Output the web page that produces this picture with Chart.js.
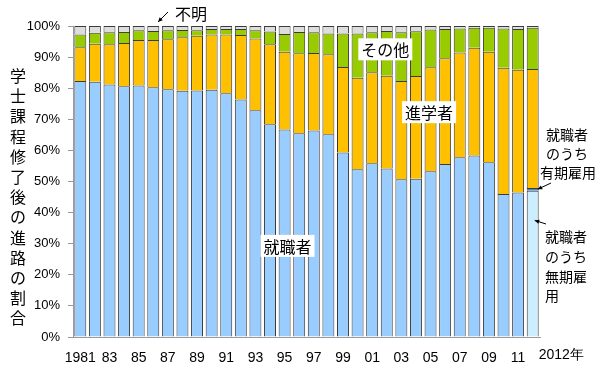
<!DOCTYPE html>
<html><head><meta charset="utf-8">
<script src="https://cdn.jsdelivr.net/npm/chart.js@4"></script>
<style>html,body{margin:0;padding:0;background:#fff}#wrap{width:600px;height:371px}</style>
</head><body><div id="wrap"><canvas id="c" width="600" height="371"></canvas></div>
<script>
const years = [1981,1982,1983,1984,1985,1986,1987,1988,1989,1990,1991,1992,1993,1994,1995,1996,1997,1998,1999,2000,2001,2002,2003,2004,2005,2006,2007,2008,2009,2010,2011,2012];
const xTickLabels = ['1981','','83','','85','','87','','89','','91','','93','','95','','97','','99','','01','','03','','05','','07','','09','','11','2012年'];
const yTickValues = [0,10,20,30,40,50,60,70,80,90,100];
// 就職者 (1981-2011); 2012 split into 無期 / 有期
const employed = [82.3,82.1,81.2,80.6,80.9,80.3,79.7,79.2,79.3,79.5,78.4,76.4,72.9,68.4,66.7,65.5,66.4,65.2,59.3,53.9,55.9,54.2,50.7,50.9,53.3,55.6,57.8,58.4,56.2,46.0,46.5,null];
const employedPermanent = [null,null,null,null,null,null,null,null,null,null,null,null,null,null,null,null,null,null,null,null,null,null,null,null,null,null,null,null,null,null,null,47.0];
const employedFixedTerm = [null,null,null,null,null,null,null,null,null,null,null,null,null,null,null,null,null,null,null,null,null,null,null,null,null,null,null,null,null,null,null,0.9];
const furtherStudy = [10.9,12.2,12.9,13.9,14.6,15.2,16.0,17.2,17.6,17.8,18.9,20.7,23.1,25.7,25.0,25.7,24.9,25.7,27.5,29.5,29.2,29.8,31.6,33.0,33.4,34.0,33.7,34.6,35.5,40.6,39.4,38.3];
const others = [4.1,3.5,3.9,3.6,3.1,2.9,2.9,2.3,1.7,1.7,1.7,1.9,2.6,4.1,5.7,6.9,6.7,6.7,10.8,14.2,12.9,14.4,15.7,14.4,12.2,9.4,7.7,6.4,7.7,12.6,13.1,13.2];
const unknown = [2.7,2.2,2.0,1.9,1.4,1.6,1.4,1.3,1.4,1.0,1.0,1.0,1.4,1.8,2.6,1.9,2.0,2.4,2.4,2.4,2.0,1.6,2.0,1.7,1.1,1.0,0.8,0.6,0.6,0.8,1.0,0.6];
const yTitle = '学士課程修了後の進路の割合';

const JP = '"Noto Sans CJK JP", sans-serif';
const BORDER = '#3a3a3a';
function ds(label, data, color){
  return {label, data, backgroundColor: color, borderColor: BORDER, borderWidth: 1,
          barPercentage: 0.82, categoryPercentage: 1.0, stack: 's'};
}

function arrow(ctx, x1, y1, x2, y2){
  ctx.save();
  ctx.strokeStyle = '#000'; ctx.fillStyle = '#000'; ctx.lineWidth = 1;
  ctx.beginPath(); ctx.moveTo(x1, y1); ctx.lineTo(x2, y2); ctx.stroke();
  const a = Math.atan2(y2 - y1, x2 - x1), L = 5;
  ctx.beginPath();
  ctx.moveTo(x2, y2);
  ctx.lineTo(x2 - L*Math.cos(a - 0.45), y2 - L*Math.sin(a - 0.45));
  ctx.lineTo(x2 - L*Math.cos(a + 0.45), y2 - L*Math.sin(a + 0.45));
  ctx.closePath(); ctx.fill();
  ctx.restore();
}
function boxText(ctx, text, cx, cy, size){
  ctx.save();
  ctx.font = size + 'px ' + JP;
  const w = ctx.measureText(text).width;
  ctx.fillStyle = '#fff';
  ctx.fillRect(cx - w/2 - 3, cy - size/2 - 3, w + 6, size + 6);
  ctx.fillStyle = '#000'; ctx.textAlign = 'center'; ctx.textBaseline = 'middle';
  ctx.fillText(text, cx, cy + 1);
  ctx.restore();
}

const annot = {
  id: 'annot',
  afterDraw(chart){
    const ctx = chart.ctx, x = chart.scales.x, y = chart.scales.y;
    const last = years.length - 1;
    // y-axis title (vertical, upright characters)
    ctx.save();
    ctx.font = '16px ' + JP; ctx.fillStyle = '#000';
    ctx.textAlign = 'center'; ctx.textBaseline = 'middle';
    [...yTitle].forEach((ch, i) => ctx.fillText(ch, 18, 76 + i * 20.2));
    // last x label
    ctx.font = '14px "Liberation Sans", Arial, sans-serif';
    ctx.textAlign = 'left';
    ctx.fillText(xTickLabels[last], x.getPixelForValue(last) + 6, 355);
    ctx.restore();

    // series labels
    boxText(ctx, 'その他', x.getPixelForValue(20.9), y.getPixelForValue(92.5), 16);
    boxText(ctx, '進学者', x.getPixelForValue(23.9), y.getPixelForValue(72.3), 16);
    boxText(ctx, '就職者', x.getPixelForValue(14.2), y.getPixelForValue(29.3), 16);

    // 不明
    ctx.save();
    ctx.font = '16px ' + JP; ctx.fillStyle = '#000';
    ctx.textAlign = 'left'; ctx.textBaseline = 'middle';
    ctx.fillText('不明', 175, 14);
    ctx.restore();
    arrow(ctx, 168, 12, 158, 22);

    // 2012 split labels
    ctx.save();
    ctx.font = '14px ' + JP; ctx.fillStyle = '#000'; ctx.textBaseline = 'middle';
    ctx.textAlign = 'center';
    ctx.fillText('就職者', 567, 135);
    ctx.fillText('のうち', 567, 154);
    ctx.fillText('有期雇用', 568, 173);
    ctx.textAlign = 'left';
    ctx.fillText('就職者', 545, 237);
    ctx.fillText('のうち', 545, 257);
    ctx.fillText('無期雇', 545, 277);
    ctx.fillText('用', 545, 296);
    ctx.restore();
    const bx = x.getPixelForValue(last);
    arrow(ctx, 551, 183, bx + 5, y.getPixelForValue(47.5));
    arrow(ctx, 546, 224, bx + 2, y.getPixelForValue(37.5));
  }
};

new Chart(document.getElementById('c'), {
  type: 'bar',
  data: {
    labels: years.map(String),
    datasets: [
      ds('就職者', employed, '#99CCFF'),
      ds('就職者のうち無期雇用', employedPermanent, '#CCEEFF'),
      ds('就職者のうち有期雇用', employedFixedTerm, '#4A86D0'),
      ds('進学者', furtherStudy, '#FFC000'),
      ds('その他', others, '#99CC00'),
      ds('不明', unknown, '#DDDDDD')
    ]
  },
  plugins: [annot],
  options: {
    responsive: false, animation: false, devicePixelRatio: 1,
    layout: {padding: {left: 0, right: 60, top: 26, bottom: 0}},
    plugins: {legend: {display: false}, tooltip: {enabled: false}},
    scales: {
      x: {
        stacked: true,
        grid: {display: false},
        border: {display: true, color: '#9a9a9a'},
        ticks: {
          autoSkip: false, maxRotation: 0, color: '#000', padding: 5,
          font: {family: '"Liberation Sans", Arial, sans-serif', size: 14},
          callback: (v, i) => (i === years.length - 1 ? '' : xTickLabels[i])
        },
        afterFit: s => { s.height = 34; }
      },
      y: {
        stacked: true, min: 0, max: 100,
        afterBuildTicks: s => { s.ticks = yTickValues.map(v => ({value: v})); },
        grid: {drawOnChartArea: false, drawTicks: true, tickLength: 5, color: '#9a9a9a'},
        border: {display: true, color: '#9a9a9a'},
        ticks: {
          color: '#000', padding: 8,
          font: {family: '"Liberation Sans", Arial, sans-serif', size: 13},
          callback: v => v + '%'
        },
        afterFit: s => { s.width = 73; }
      }
    }
  }
});
</script></body></html>
